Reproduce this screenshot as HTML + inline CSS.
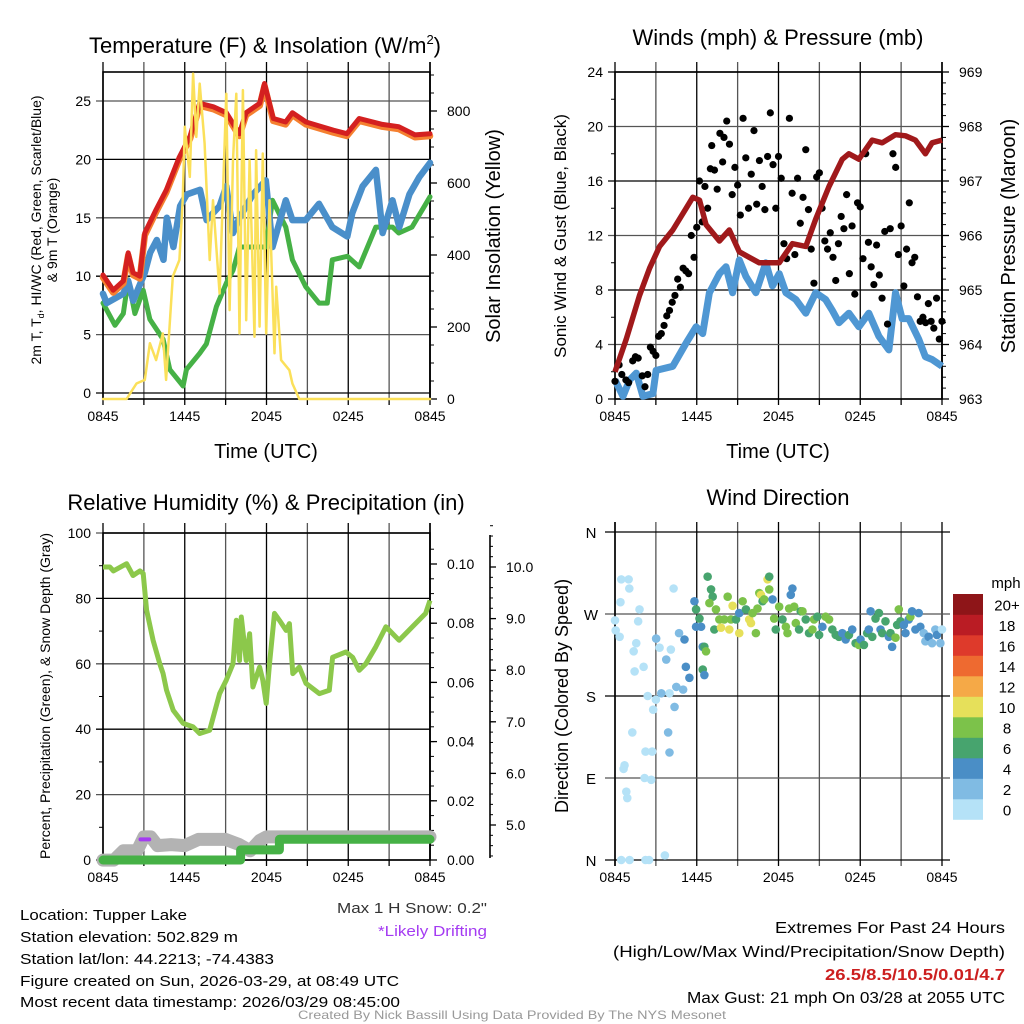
<!DOCTYPE html>
<html><head><meta charset="utf-8">
<style>
html,body{margin:0;padding:0;background:#fff;}
svg{display:block;font-family:"Liberation Sans",sans-serif;}
</style></head>
<body>
<svg id="s" width="1024" height="1024" viewBox="0 0 1024 1024"></svg>
<script>
// ---------- DATA ----------
const tempHours = [0,0.75,1.5,1.85,2.2,2.7,3.07,3.9,4.65,5.6,6.4,7.1,8.1,9.05,10,10.5,11.5,11.85,12.5,13.4,13.9,14.9,16.9,17.9,18.8,20.5,21.7,22.9,24];
const tempValues = [10.1,8.8,9.6,12,10.3,10,13.7,15.7,17.4,20.2,22,24.8,24.5,24,22.2,24,24.8,26.5,23.5,23.2,24,23.2,22.5,22.2,23.5,23,22.8,22.1,22.2];
const wcHours = [0,0.27,1.5,1.85,2.22,3.07,3.46,3.95,4.44,4.68,5.17,5.66,6.15,7.12,7.6,8.56,9.05,9.54,10.02,11,11.95,12.44,13.42,13.9,14.88,15.85,16.83,17.93,18.3,19.05,20.03,20.52,21.25,21.75,22.49,23.22,24];
const wcValues = [8.5,7.7,8.5,9.6,7.9,10.3,12,13.1,11.4,15,12.5,16,17,17.4,14.8,16,17.7,13.7,15,17,18.2,12.5,16.5,14.8,14.8,16.2,14.2,13.4,15.4,17.7,19.1,13.7,16.5,14.2,17,18.5,19.7];
const tdHours = [0,0.88,1.49,1.85,2.34,2.95,3.44,4.41,4.9,5.88,6.12,7.1,7.59,8.32,9.05,9.54,10.02,11,11.95,12.44,13.42,13.9,14.88,15.85,16.46,16.83,17.93,18.8,20.02,21.25,21.71,22.68,24];
const tdValues = [7.7,5.8,6.8,9.7,6.8,8.8,6.3,4.6,2,0.6,2,3.4,4.2,7.4,9.4,10.5,12.5,12.5,12.5,16.5,14.2,11.4,9.1,7.7,7.7,11.4,11.7,10.8,14.2,14.2,13.7,14.2,16.8];
const solarHours = [0,1.73,2.46,3.07,3.44,3.9,4.39,4.63,5.12,5.61,5.85,6.0,6.37,6.61,6.85,7.1,7.46,7.83,8.07,8.56,9.05,9.29,9.54,9.78,10.02,10.27,10.51,10.76,11.12,11.24,11.49,11.73,11.98,12.22,12.59,12.71,13.07,13.68,13.9,14.41,24];
const solarValues = [0,0,43,53,155,108,182,53,340,386,552,756,617,904,728,876,710,386,552,293,848,247,663,848,182,858,219,663,173,691,201,682,182,552,127,312,108,80,43,0,0];
const windHours = [0,0.59,1.07,1.56,2.05,2.78,3.02,4.24,5.22,5.95,6.44,6.93,7.66,8.15,8.63,9.12,9.61,10.34,11.07,11.56,12.05,12.54,13.27,14,14.73,15.46,15.95,16.44,17.17,17.9,18.63,19.37,20.1,20.59,21.07,21.56,22.29,22.78,23.27,24];
const windValues = [1.4,0.2,1.4,1.9,0.2,0.4,2.1,2.4,4.1,5.3,4.8,7.8,9.2,9.7,7.8,10.2,9,7.8,10,8.3,9.2,7.8,7.3,6.3,7.8,7.3,6.5,5.6,6.3,5.3,6.3,4.6,3.6,7.8,5.9,5.9,4.4,3.1,2.9,2.4];
const presHours = [0,0.83,1.8,2.54,3.27,4.24,5.22,5.71,6.2,6.68,7.66,8.39,9.12,9.85,10.59,11.32,12.05,13.02,14,14.73,15.71,16.68,17.17,17.9,18.88,19.61,20.59,21.32,22.05,22.78,23.27,24];
const presValues = [963.5,964.1,964.9,965.4,965.8,966.1,966.5,966.7,966.65,966.2,965.9,966.1,965.7,965.6,965.5,965.5,965.5,965.85,965.8,966.3,966.9,967.4,967.5,967.4,967.75,967.7,967.85,967.83,967.75,967.5,967.7,967.75];
const gustHours = [0,0.3,0.5,0.8,1,1.3,1.5,1.7,2,2.2,2.4,2.6,2.8,3,3.2,3.4,3.6,3.8,4,4.2,4.4,4.6,4.8,5,5.2,5.4,5.6,5.8,6,6.2,6.4,6.6,6.8,7,7.1,7.3,7.5,7.7,7.9,8,8.2,8.4,8.6,8.8,9,9.2,9.4,9.6,9.8,10,10.2,10.4,10.6,10.8,11,11.2,11.4,11.6,11.8,12,12.2,12.4,12.6,12.8,13,13.2,13.4,13.6,13.8,14,14.2,14.4,14.6,14.8,15,15.2,15.4,15.6,15.8,16,16.2,16.4,16.6,16.8,17,17.2,17.4,17.6,17.8,18,18.2,18.4,18.6,18.8,19,19.2,19.4,19.6,19.8,20,20.2,20.4,20.6,20.8,21,21.2,21.4,21.6,21.8,22,22.2,22.4,22.6,22.8,23,23.2,23.4,23.6,23.8,24];
const gustValues = [1.3,2.5,1.8,1.4,1.2,2.8,3.1,3,1.7,0.9,1.8,3.8,3.5,3.2,4.6,4.8,5.4,6.1,6.5,7.1,7.6,8.8,8.2,9.6,9.4,9.2,12,10.4,12.6,16,13,15.6,14,16.9,18.6,16.8,15.4,19.5,17.4,19.2,20.4,18.7,15,17,15.7,13.5,20.6,17.7,14,16.5,19.7,14.3,17.5,15.6,13.9,17.8,21,17.2,14,17.8,16.2,11.4,10.3,20.6,15.1,10.6,16.2,12.9,14.8,18.3,13.9,11,8.5,16.3,16.6,14,11.6,11,12.2,10.4,8.7,11.4,13.4,12.5,15,9.2,12.7,7.7,14.4,14.1,10.3,18,11.5,9.7,8.4,11.3,9.1,7.4,12.3,5.5,12.5,18,17,10.6,12.7,8.3,11,14.4,10,10.4,7.5,5.7,6,5.6,7,5.7,5.2,7.4,4.4,5.7];
const rhHours = [0,0.51,0.76,1.73,2.2,2.71,2.95,3.2,3.68,4.17,4.41,4.66,5.15,5.88,6.61,7.1,7.83,8.56,9.05,9.54,9.78,10.02,10.15,10.51,10.76,11.0,11.49,11.73,11.98,12.22,12.59,12.95,13.44,13.68,13.93,14.41,14.9,15.88,16.61,16.85,17.83,18.32,18.8,19.29,20.02,20.76,21.73,22.71,23.68,24];
const rhValues = [89.6,89.6,88.4,90.6,87,88.4,87.6,76.4,67.2,60,57,52,45.8,41.8,40.7,38.7,39.7,50.9,55,60,73.3,61,74.3,61,69.2,52.9,59,55,47.9,60,75.4,73.3,70.2,72.3,57,59,54,50.9,51.9,62,63.6,62,58,60,65.2,71.3,67.2,71.3,75.4,79.4];
const precipHours = [0,10.1,10.1,12.95,12.95,24];
const precipValues = [0,0,0.0034,0.0034,0.007,0.007];
const snowHours = [0,0.8,1.5,2.5,3.0,3.5,4,5,6,7,8,9,10,10.8,11.5,12,24];
const snowValues = [4.32,4.32,4.5,4.5,4.77,4.77,4.6,4.62,4.6,4.72,4.72,4.72,4.62,4.5,4.7,4.77,4.77];
const driftHours = [2.75,3.4];
const driftValues = [4.72,4.72];
const dirHours = [0,0.05,0.34,0.46,1.0,1.05,0.4,1.8,1.7,1.56,1.44,1.37,2.1,2.4,2.8,1.27,0.7,0.63,0.83,0.9,2.17,2.66,2.24,2.73,0.46,1.07,2.24,2.5,3.66,4.3,4.1,3.27,3.0,4.0,3.02,3.4,3.76,4.37,3.9,4.0,4.5,4.7,5.1,5.2,5.0,5.46,5.83,5.95,6.2,5.95,6.32,6.44,6.56,6.68,6.44,6.56,6.8,7.05,7.17,6.93,7.41,7.29,7.66,7.78,8.02,8.27,8.39,8.51,8.63,8.88,9.12,9.12,9.37,9.61,9.85,9.98,10.1,10.34,10.46,10.59,10.71,10.83,10.95,11.2,11.32,11.32,11.56,11.68,11.8,12.05,12.29,12.54,12.66,12.78,12.9,13.02,13.15,13.27,13.51,13.63,13.76,14,14.24,14.49,14.61,14.85,14.98,15.22,15.46,15.71,15.95,16.2,16.44,16.68,16.93,17.17,17.41,17.66,17.9,18.02,18.27,18.51,18.63,18.76,18.88,19.12,19.37,19.49,19.61,19.85,20.1,20.22,20.34,20.59,20.71,20.83,20.95,21.2,21.32,21.56,21.68,21.8,22.05,22.29,22.41,22.66,22.78,23.02,23.27,23.51,23.63,23.88,24];
const dirValues = [263,252,245,308,308,298,283,275,262,238,207,229,212,180,165,140,104,100,75,68,90,88,119,119,0,0,0,0,5,298,231,233,176,183,243,183,220,168,140,118,190,249,242,212,187,200,284,256,265,275,256,234,234,229,209,203,311,297,289,282,275,253,264,255,264,289,253,264,279,264,249,271,284,275,264,260,271,249,276,293,291,284,286,308,311,297,286,265,253,278,264,256,249,276,291,298,278,260,253,273,273,264,249,253,264,267,247,256,267,264,253,247,245,249,242,247,253,238,236,242,236,249,253,273,245,265,271,253,249,262,245,249,234,244,258,275,262,258,249,264,267,273,253,271,256,249,240,245,238,253,247,238,253,225,238];
const dirSpeeds = [1,1,1,1,1,1,1,1,1,1,1,1,1,1,1,1,1,1,1,1,1,1,1,1,1,1,1,1,1,1,1,1,1,1,3,3,3,3,3,3,3,3,5,5,3,5,5,5,7,7,5,5,7,9,7,5,7,7,7,9,9,7,9,11,9,9,11,9,11,7,11,5,9,7,11,11,9,9,9,9,11,7,9,11,7,9,5,9,7,9,7,9,9,9,5,5,9,9,7,7,9,7,7,9,9,7,7,5,9,9,7,7,7,5,5,7,5,7,9,5,7,7,5,5,7,7,7,5,7,7,5,7,5,9,7,9,7,5,5,5,9,5,5,5,5,3,3,5,3,3,5,3];
const speedBins = [0,2,4,6,8,10,12,14,16,18,20];
const binLabels = ["0","2","4","6","8","10","12","14","16","18","20+"];
const binColors = ["#b5e2f7","#80bbe3","#4a8ec6","#47a46e","#7cc24a","#e6e05a","#f5a947","#ee6a30","#de3a2b","#ba1c24","#8e1518"];
const timeLabels = ["0845","1445","2045","0245","0845"];

// ---------- DRAWING ----------
const NS="http://www.w3.org/2000/svg";
const svg=document.getElementById('s');
function el(tag,attrs,parent){const e=document.createElementNS(NS,tag);for(const k in attrs)e.setAttribute(k,attrs[k]);(parent||svg).appendChild(e);return e;}
function txt(x,y,s,size,anchor,parent,extra){const t=el('text',Object.assign({x:x,y:y,'font-size':size,'text-anchor':anchor||'start',fill:'#000'},extra||{}),parent);t.textContent=s;return t;}
function lin(x0,x1,v0,v1){return v=>x0+(v-v0)*(x1-x0)/(v1-v0);}

function frame(g,L,R,T,B,xs,yTicksVals,ys,yLabels,minorVals){
  for(let h=0;h<=24;h+=3){const x=xs(h);
    const gl=el('line',{x1:x,x2:x,y1:T-10,y2:B,stroke:(h%6==0)?'#000':'#555','stroke-width':1.3},g);
    
    el('line',{x1:x,x2:x,y1:B,y2:B+6,stroke:'#000','stroke-width':1.3},g);}
  yTicksVals.forEach((v,i)=>{const y=ys(v);
    const gl=el('line',{x1:L-7,x2:R,y1:y,y2:y,stroke:(i%2)?'#555':'#000','stroke-width':1.3},g);
    
    txt(L-12,y+5,yLabels[i],14,'end',g);});
  (minorVals||[]).forEach(v=>{const y=ys(v);el('line',{x1:L-4,x2:L,y1:y,y2:y,stroke:'#000','stroke-width':1},g);});
  el('rect',{x:L,y:T,width:R-L,height:B-T,fill:'none',stroke:'#000','stroke-width':1.6},g);
  timeLabels.forEach((s,i)=>{const t=txt(xs(i*6),B+22,s,14,'middle',g);});
}
function pathFrom(xsArr,ysArr,xs,ys){return xsArr.map((h,i)=>(i?'L':'M')+xs(h).toFixed(1)+','+ys(ysArr[i]).toFixed(1)).join('');}
function rightAxis(g,R,T,B,vals,labels,ys,minor){
  el('line',{x1:R,x2:R,y1:T-10,y2:B,stroke:'#000','stroke-width':1.6},g);
  vals.forEach((v,i)=>{const y=ys(v);el('line',{x1:R,x2:R+7,y1:y,y2:y,stroke:'#000','stroke-width':1.3},g);txt(R+17,y+5,labels[i],14,'start',g);});
  (minor||[]).forEach(v=>{const y=ys(v);el('line',{x1:R,x2:R+4,y1:y,y2:y,stroke:'#000','stroke-width':1},g);});
}

// Panel 1
(function(){
  const g=el('g',{});
  const L=103,R=430,T=72,B=399;
  const xs=lin(L,R,0,24), ys=lin(393,101,0,25), ys2=lin(399,111,0,800);
  frame(g,L,R,T,B,xs,[0,5,10,15,20,25],ys,["0","5","10","15","20","25"],[]);
  const mv2=[];for(let v=0;v<=900;v+=50)mv2.push(v);
  rightAxis(g,R,T,B,[0,200,400,600,800],["0","200","400","600","800"],ys2,mv2);
  const p=(d,c,w,n)=>{const e=el('path',{d:d,fill:'none',stroke:c,'stroke-width':w,'stroke-linejoin':'round','stroke-linecap':'round'},g);};
  p(pathFrom(tdHours,tdValues,xs,ys),'#46b146',5,'dewpoint-line');
  p(pathFrom(wcHours,wcValues,xs,ys),'#4a8fca',6.5,'windchill-line');
  p(pathFrom(tempHours,tempValues.map(v=>v-0.2),xs,ys),'#f58030',6.5,'temp-9m-line');
  p(pathFrom(tempHours,tempValues,xs,ys),'#d42020',5,'temp-2m-line');
  p(pathFrom(solarHours,solarValues,xs,ys2),'#fbe05a',2.5,'solar-line');
  const t=txt(265,53,'Temperature (F) & Insolation (W/m',22,'middle',g);
  const sup=el('tspan',{'font-size':13,dy:-9},t);sup.textContent='2';const cl=el('tspan',{dy:9},t);cl.textContent=')';
  
  txt(0,0,'2m T, T',14,'middle',g,{transform:'translate(41,230) rotate(-90)'}).innerHTML='2m T, T<tspan font-size="9" dy="3">d</tspan><tspan dy="-3">, HI/WC (Red, Green, Scarlet/Blue)</tspan>';
  txt(0,0,'& 9m T (Orange)',14,'middle',g,{transform:'translate(57,230) rotate(-90)'});
  txt(0,0,'Solar Insolation (Yellow)',20,'middle',g,{transform:'translate(500,236) rotate(-90)'});
  txt(266,458,'Time (UTC)',20,'middle',g);
})();

// Panel 2
(function(){
  const g=el('g',{});
  const L=615,R=942,T=72,B=399;
  const xs=lin(L,R,0,24), ys=lin(B,T,0,24), ys2=lin(B,T,963,969);
  frame(g,L,R,T,B,xs,[0,4,8,12,16,20,24],ys,["0","4","8","12","16","20","24"],[2,6,10,14,18,22]);
  const mv=[];for(let v=963;v<=969;v+=0.2)mv.push(v);
  rightAxis(g,R,T,B,[963,964,965,966,967,968,969],["963","964","965","966","967","968","969"],ys2,mv);
  const w=el('path',{d:pathFrom(windHours,windValues,xs,ys),fill:'none',stroke:'#4f97d3','stroke-width':7,'stroke-linejoin':'round'},g);
  
  gustHours.forEach((h,i)=>{const c=el('circle',{cx:xs(h),cy:ys(gustValues[i]),r:3.6,fill:'#000'},g);
    });
  const pr=el('path',{d:pathFrom(presHours,presValues,xs,ys2),fill:'none',stroke:'#a0191b','stroke-width':5.5,'stroke-linejoin':'round'},g);
  
  txt(778,45,'Winds (mph) & Pressure (mb)',22,'middle',g);
  txt(0,0,'Sonic Wind & Gust (Blue, Black)',17,'middle',g,{transform:'translate(566,236) rotate(-90)'});
  txt(0,0,'Station Pressure (Maroon)',20,'middle',g,{transform:'translate(1015,236) rotate(-90)'});
  txt(778,458,'Time (UTC)',20,'middle',g);
})();

// Panel 3
(function(){
  const g=el('g',{});
  const L=103,R=430,T=533,B=860;
  const xs=lin(L,R,0,24), ys=lin(B,T,0,100), ys2=lin(B,564,0,0.1), ys3=lin(825,567,5,10);
  frame(g,L,R,T,B,xs,[0,20,40,60,80,100],ys,["0","20","40","60","80","100"],[10,30,50,70,90]);
  const mv=[];for(let v=0;v<=0.11;v+=0.005)mv.push(v);
  rightAxis(g,R,T,B,[0,0.02,0.04,0.06,0.08,0.10],["0.00","0.02","0.04","0.06","0.08","0.10"],ys2,mv);
  const A=490;el('line',{x1:A,x2:A,y1:535,y2:858,stroke:'#000','stroke-width':1.6},g);
  [5,6,7,8,9,10].forEach(v=>{const y=ys3(v);el('line',{x1:A,x2:A+6,y1:y,y2:y,stroke:'#000','stroke-width':1.3},g);txt(A+16,y+5,v.toFixed(1),14,'start',g);});
  for(let v=4.4;v<=10.8;v+=0.2){const y=ys3(v);el('line',{x1:A,x2:A+3,y1:y,y2:y,stroke:'#000','stroke-width':1},g);}
  const sn=el('path',{d:pathFrom(snowHours,snowValues,xs,ys3),fill:'none',stroke:'#b3b3b3','stroke-width':13,'stroke-linejoin':'round','stroke-linecap':'round'},g);
  
  const dr=el('path',{d:pathFrom(driftHours,driftValues,xs,ys3),fill:'none',stroke:'#a43bf2','stroke-width':4,'stroke-linecap':'round'},g);
  
  const pc=el('path',{d:pathFrom(precipHours,precipValues,xs,ys2),fill:'none',stroke:'#46b146','stroke-width':9,'stroke-linejoin':'round','stroke-linecap':'round'},g);
  
  const rh=el('path',{d:pathFrom(rhHours,rhValues,xs,ys),fill:'none',stroke:'#8cc84b','stroke-width':5,'stroke-linejoin':'round'},g);
  
  txt(266,510,'Relative Humidity (%) & Precipitation (in)',22,'middle',g);
  txt(0,0,'Percent, Precipitation (Green), & Snow Depth (Gray)',14,'middle',g,{transform:'translate(50,696) rotate(-90)'});
})();

// Panel 4
(function(){
  const g=el('g',{});
  const L=615,R=942,T=532,B=860;
  const xs=lin(L,R,0,24), ys=lin(B,T,0,360);
  for(let h=0;h<=24;h+=3){const x=xs(h);el('line',{x1:x,x2:x,y1:T-10,y2:B+6,stroke:(h%6==0)?'#000':'#555','stroke-width':1.3},g);}
  ["N","E","S","W","N"].forEach((s,i)=>{const y=ys(i*90);el('line',{x1:L-10,x2:R+8,y1:y,y2:y,stroke:(i%2)?'#555':'#000','stroke-width':1.3},g);txt(L-24,y+6,s,15,'middle',g);});
  el('line',{x1:L,x2:L,y1:T-10,y2:B+6,stroke:'#000','stroke-width':1.6},g);
  timeLabels.forEach((s,i)=>txt(xs(i*6),B+22,s,14,'middle',g));
  const binOf=v=>{let k=0;for(let i=0;i<speedBins.length;i++)if(v>=speedBins[i])k=i;return k;};
  dirHours.forEach((h,i)=>{const c=el('circle',{cx:xs(h),cy:ys(dirValues[i]),r:4.3,fill:binColors[binOf(dirSpeeds[i])]},g);
    });
  txt(778,505,'Wind Direction',22,'middle',g);
  txt(0,0,'Direction (Colored By Speed)',18,'middle',g,{transform:'translate(568,696) rotate(-90)'});
  const cb=el('g',{},g);
  const cx=953,cw=30,top=594,bh=20.5;
  binColors.forEach((c,i)=>{const y=top+(binColors.length-1-i)*bh;el('rect',{x:cx,y:y,width:cw,height:bh+0.3,fill:c},cb);
    txt(1007,y+bh/2+6,binLabels[i],15,'middle',cb);});
  txt(1006,588,'mph',15,'middle',cb);
})();

// Footer text
(function(){
  const g=el('g',{});
  const L=[['Location: Tupper Lake',920,167],['Station elevation: 502.829 m',942,218],['Station lat/lon: 44.2213; -74.4383',964,254],['Figure created on Sun, 2026-03-29, at 08:49 UTC',986,379],['Most recent data timestamp: 2026/03/29 08:45:00',1007,380]];
  L.forEach(a=>txt(20,a[1],a[0],15,'start',g,{textLength:a[2],lengthAdjust:'spacingAndGlyphs'}));
  txt(487,913,'Max 1 H Snow: 0.2"',15,'end',g,{fill:'#333',textLength:150,lengthAdjust:'spacingAndGlyphs'});
  txt(487,936,'*Likely Drifting',15,'end',g,{fill:'#a43bf2',textLength:109,lengthAdjust:'spacingAndGlyphs'});
  const e=el('g',{});
  txt(1005,933,'Extremes For Past 24 Hours',16,'end',e,{textLength:230,lengthAdjust:'spacingAndGlyphs'});
  txt(1005,957,'(High/Low/Max Wind/Precipitation/Snow Depth)',16,'end',e,{textLength:392,lengthAdjust:'spacingAndGlyphs'});
  txt(1005,980,'26.5/8.5/10.5/0.01/4.7',16,'end',e,{fill:'#cc1f1f','font-weight':'bold',textLength:180,lengthAdjust:'spacingAndGlyphs'});
  txt(1005,1003,'Max Gust: 21 mph On 03/28 at 2055 UTC',16,'end',e,{textLength:318,lengthAdjust:'spacingAndGlyphs'});
  txt(512,1019,'Created By Nick Bassill Using Data Provided By The NYS Mesonet',12,'middle',g,{fill:'#999',textLength:428,lengthAdjust:'spacingAndGlyphs'});
})();
</script>
</body></html>
